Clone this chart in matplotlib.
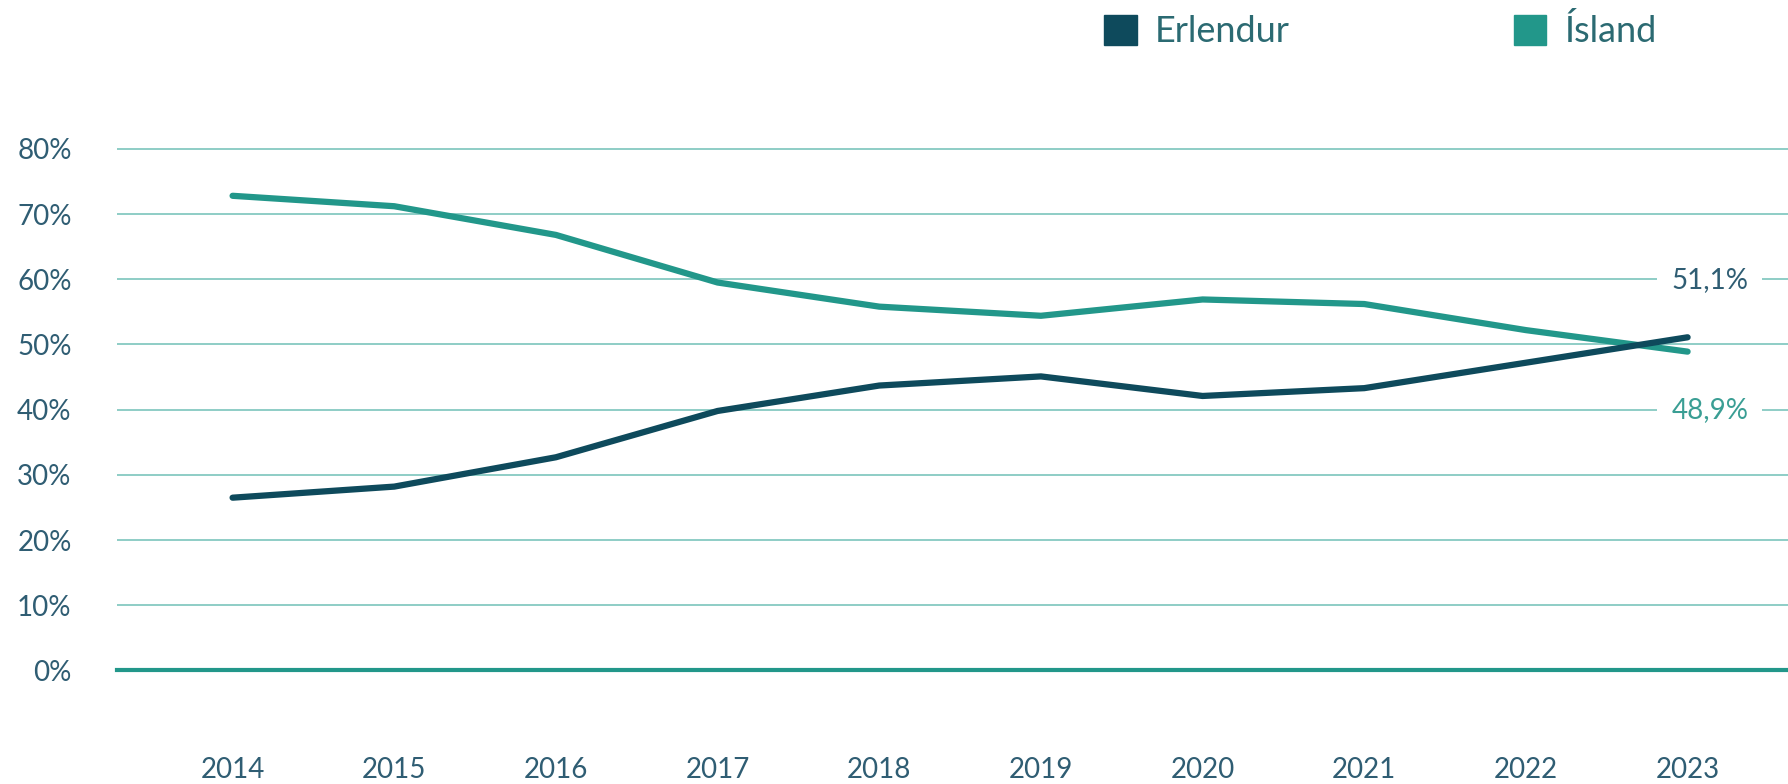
import matplotlib.pyplot as plt
from matplotlib.patches import Patch

plt.rcParams['font.family'] = ['Lato', 'DejaVu Sans']

years = [2014, 2015, 2016, 2017, 2018, 2019, 2020, 2021, 2022, 2023]
erlendur = [26.5, 28.2, 32.7, 39.8, 43.7, 45.1, 42.1, 43.3, 47.2, 51.1]
island = [72.8, 71.2, 66.8, 59.5, 55.8, 54.4, 56.9, 56.2, 52.2, 48.9]
yticks = [0, 10, 20, 30, 40, 50, 60, 70, 80]

dark = '#0e4a5c'
teal = '#22978a'
grid_col = '#86c9c1'
text_col = '#2f5d73'

fig = plt.figure(figsize=(17.88, 7.84), dpi=100)
ax = fig.add_axes([0.0657, 0.1448, 0.9343, 0.6695])

ax.plot(years, island, color=teal, lw=4.5, solid_capstyle='round', solid_joinstyle='round', zorder=3)
ax.plot(years, erlendur, color=dark, lw=4.5, solid_capstyle='round', solid_joinstyle='round', zorder=4)

ax.set_xlim(2013.288, 2023.621)
ax.set_ylim(0, 80.5)
ax.set_yticks(yticks)
ax.set_yticklabels([f'{v}%' for v in yticks])
ax.set_xticks(years)
ax.set_xticklabels([str(y) for y in years])

for v in yticks[1:]:
    ax.axhline(v, color=grid_col, lw=1.3, zorder=1)
ax.axhline(0, color=teal, lw=3, zorder=2, clip_on=False)

for s in ax.spines.values():
    s.set_visible(False)
ax.tick_params(axis='both', length=0, labelsize=20, colors=text_col)
ax.tick_params(axis='y', pad=33)
ax.tick_params(axis='x', pad=62)

# end labels
ax.annotate(f'{erlendur[-1]:.1f}%'.replace('.', ','), (years[-1], erlendur[-1]),
            xytext=(16, 41), textcoords='offset points', ha='center', va='center',
            fontsize=20, color=text_col, zorder=5,
            bbox=dict(boxstyle='square,pad=0.5', fc='white', ec='none'))
ax.annotate(f'{island[-1]:.1f}%'.replace('.', ','), (years[-1], island[-1]),
            xytext=(16, -42), textcoords='offset points', ha='center', va='center',
            fontsize=20, color='#3a9e94', zorder=5,
            bbox=dict(boxstyle='square,pad=0.5', fc='white', ec='none'))

handles = [Patch(color=dark, label='Erlendur'), Patch(color=teal, label='Ísland')]
leg = fig.legend(handles=handles, loc='upper left', bbox_to_anchor=(0.6075, 1.005), ncol=2,
                 frameon=False, fontsize=26, handlelength=0.9, handleheight=0.9,
                 handletextpad=0.5, columnspacing=6.2, borderpad=0)
for t in leg.get_texts():
    t.set_color('#2b6a72')

fig.savefig('out.png', dpi=100)
